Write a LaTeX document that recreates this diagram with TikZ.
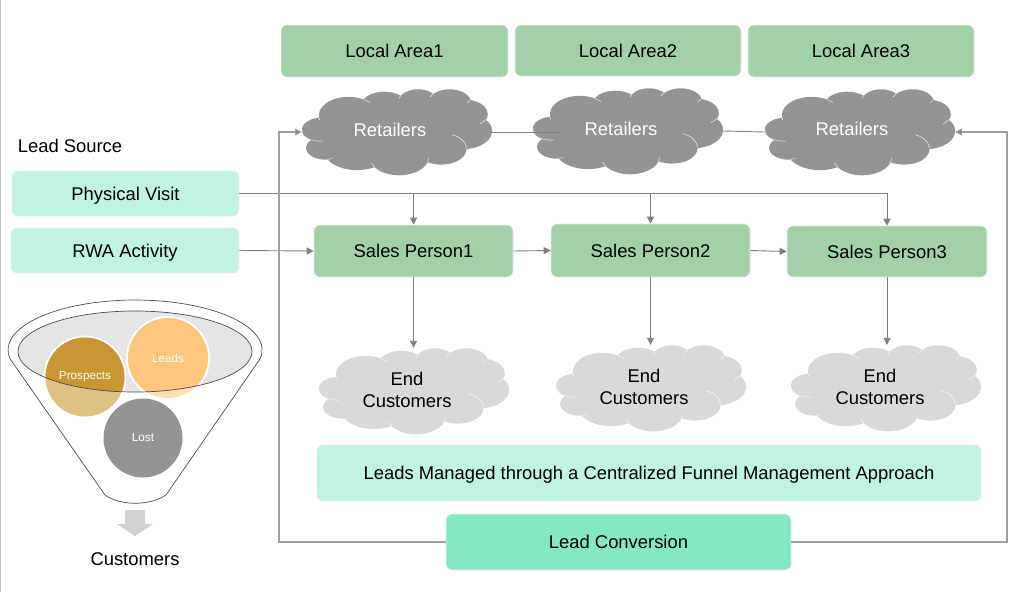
\documentclass[tikz,border=0pt]{standalone}
\usepackage{fontspec}
\usepackage{xcolor}
\setmainfont{Liberation Sans}
\usetikzlibrary{arrows.meta,calc}

\definecolor{areagreen}{HTML}{A2D0A9}
\definecolor{sourcemint}{HTML}{C0F3E0}
\definecolor{convmint}{HTML}{84E8C3}
\definecolor{wiregray}{HTML}{7F7F7F}
\definecolor{loopgray}{HTML}{A0A0A0}
\definecolor{puffdark}{HTML}{949494}
\definecolor{pufflight}{HTML}{D9D9D9}
\definecolor{prospdark}{HTML}{C89632}
\definecolor{prosplight}{HTML}{DFC184}
\definecolor{leaddark}{HTML}{FFC680}
\definecolor{leadlight}{HTML}{FFDDB5}

\tikzset{
  areabox/.style={draw=black!8, line width=0.6pt, fill=areagreen, rounded corners=6pt, inner sep=0pt, text height=13pt, text depth=0pt, font=\fontsize{18.4}{22}\selectfont},
  srcbox/.style={areabox, fill=sourcemint},
  puffbox/.style={inner sep=0pt, minimum width=190pt, minimum height=86pt},
  pufftext/.style={align=center, inner sep=0pt, font=\fontsize{18.4}{22}\selectfont},
  ball/.style={circle, inner sep=0pt, minimum size=79pt, text=white, font=\fontsize{11.7}{14}\selectfont},
  wire/.style={wiregray, line width=0.9pt},
  loopwire/.style={loopgray, line width=1.1pt},
  arrowed/.style={-{Triangle[length=7pt,width=7pt,fill=wiregray]}}
}

% one lobe of the cloud outline: radii, start angle, sweep
\newcommand{\cloudarc}[4]{%
  \pgfextra{%
    \pgfmathsetmacro{\cloudst}{atan2(#1*sin(#3),#2*cos(#3))}%
    \pgfmathsetmacro{\cloudend}{atan2(#1*sin(#3+#4),#2*cos(#3+#4))}%
    \pgfmathsetmacro{\cloudend}{\cloudend+360*(\cloudend<\cloudst)}%
  }
  arc[start angle=\cloudst, end angle=\cloudend, x radius=#1pt, y radius=#2pt]
}
% cloud with its top left corner at #1, filled with #2
\newcommand{\puff}[2]{%
  \begin{scope}[shift={(#1)}, xscale=0.44, yscale=-0.199]
    \fill[#2] (39pt,143.7pt)
      \cloudarc{67.53}{91.90}{-190.4875}{123.7805}
      \cloudarc{53.33}{72.67}{-144.1024}{89.9452}
      \cloudarc{43.65}{59.45}{-145.8079}{99.7230}
      \cloudarc{48.57}{65.95}{-130.9861}{117.2417}
      \cloudarc{53.33}{72.73}{-78.7089}{109.0269}
      \cloudarc{67.75}{92.20}{-46.2673}{130.2690}
      \cloudarc{57.85}{78.67}{0.6250}{114.0333}
      \cloudarc{67.52}{92.15}{22.4516}{115.1726}
      \cloudarc{77.20}{105.43}{66.2426}{75.7110}
      \cloudarc{43.60}{59.18}{-274.9421}{146.7356}
      \cloudarc{43.45}{59.45}{-246.8285}{152.5189}
      -- cycle;
    % seams between the lobes
    \draw[white, line width=0.4pt]
      (47pt,262pt) .. controls (38pt,263pt) and (28pt,260pt) .. (21pt,255pt)
      (69pt,349pt) -- (58pt,354pt)
      (165pt,391pt) -- (158pt,373pt)
      (288pt,348pt) -- (285pt,368pt)
      (341pt,230pt) .. controls (360pt,240pt) and (372pt,265pt) .. (374pt,297pt)
      (418pt,154pt) -- (405pt,175pt)
      (382pt,55pt) -- (375pt,71pt)
      (291pt,40pt) -- (298pt,24pt)
      (221pt,47pt) -- (224pt,34pt)
      (140pt,52pt) -- (155pt,68pt)
      (41pt,158pt) -- (38pt,145pt);
  \end{scope}
}

\begin{document}
\begin{tikzpicture}[x=1pt, y=-1pt]
  \useasboundingbox (0,0) rectangle (1028,592);
  \draw[gray!50, line width=1pt] (0.5,0) -- (0.5,592);

  % Clouds
  \puff{302,89}{puffdark}
  \puff{533,88}{puffdark}
  \puff{765,89}{puffdark}
  \puff{319,348}{pufflight}
  \puff{556,345}{pufflight}
  \puff{791,345}{pufflight}
  \node[puffbox] (ret1) at (397,132) {};
  \node[puffbox] (ret2) at (628,131) {};
  \node[puffbox] (ret3) at (860,132) {};
  \node[puffbox] (end1) at (414,391) {};
  \node[puffbox] (end2) at (651,388) {};
  \node[puffbox] (end3) at (886,388) {};
  \node[pufftext, text=white] (ret1txt) at (390,130) {Retailers};
  \node[pufftext, text=white] (ret2txt) at (621,129) {Retailers};
  \node[pufftext, text=white] (ret3txt) at (852,129) {Retailers};
  \node[pufftext] (end1txt) at (407,390) {End\\Customers};
  \node[pufftext] (end2txt) at (644,387) {End\\Customers};
  \node[pufftext] (end3txt) at (880,387) {End\\Customers};
  \coordinate (ret2in) at (561,132);

  % Boxes
  \node[areabox, minimum width=227pt, minimum height=52pt] (area1) at (394.5,51) {Local Area1};
  \node[areabox, minimum width=226pt, minimum height=51pt] (area2) at (628,50.5) {Local Area2};
  \node[areabox, minimum width=226pt, minimum height=52pt] (area3) at (861,51) {Local Area3};
  \node[areabox, minimum width=199pt, minimum height=52pt] (sales1) at (413.5,251) {Sales Person1};
  \node[areabox, minimum width=199pt, minimum height=53pt] (sales2) at (650.5,250.5) {Sales Person2};
  \node[areabox, minimum width=200pt, minimum height=51pt] (sales3) at (887,251.5) {Sales Person3};
  \node[srcbox, minimum width=227pt, minimum height=45pt] (visit) at (125.5,193.5) {Physical Visit};
  \node[srcbox, minimum width=228pt, minimum height=45pt] (rwa) at (125,250.5) {RWA Activity};
  \node[srcbox, minimum width=664pt, minimum height=56pt] (managed) at (649,473) {Leads Managed through a Centralized Funnel Management Approach};
  \node[srcbox, fill=convmint, minimum width=345pt, minimum height=56pt] (conv) at (618.5,542) {Lead Conversion};
  \node[pufftext] (source) at (70,146) {Lead Source};

  % Connectors
  \draw[wire] (ret1.east) -- (ret2in);
  \draw[wire] (ret2.east) -- (ret3.west);
  \draw[wire, arrowed] (visit.east) -| (sales3.north);
  \draw[wire, arrowed] (sales1.north |- visit.east) -- (sales1.north);
  \draw[wire, arrowed] (sales2.north |- visit.east) -- (sales2.north);
  \draw[wire, arrowed] (rwa.east) -- (sales1.west);
  \draw[wire, arrowed] (sales1.east) -- (sales2.west);
  \draw[wire, arrowed] (sales2.east) -- (sales3.west);
  \draw[wire, arrowed] (sales1.south) -- (sales1.south |- end1.north);
  \draw[wire, arrowed] (sales2.south) -- (sales2.south |- end2.north);
  \draw[wire, arrowed] (sales3.south) -- (sales3.south |- end3.north);
  \draw[loopwire, arrowed] (conv.west) -| (279,132) -- (ret1.west);
  \draw[loopwire, arrowed] (conv.east) -| (1007,132) -- (ret3.east);

  % Funnel
  \draw[black!70, line width=0.7pt, fill=white] (10,358.7)
    arc[start angle=190, end angle=-10, x radius=127pt, y radius=50pt]
    -- (166,495) .. controls (150,506) and (120,506) .. (105,495) -- cycle;
  \fill[black!10] (135,351.5) ellipse[x radius=117pt, y radius=40.5pt];
  \fill[prosplight] (85,377) circle (39.5pt);
  \fill[leadlight] (168,358) circle (40pt);
  \begin{scope}
    \clip (135,351.5) ellipse[x radius=117pt, y radius=40.5pt];
    \draw[white, line width=2pt] (85,377) circle (40.5pt);
    \draw[white, line width=2pt] (168,358) circle (41pt);
    \fill[prospdark] (85,377) circle (39.5pt);
    \fill[leaddark] (168,358) circle (40pt);
  \end{scope}
  \draw[black!70, line width=0.7pt] (135,351.5) ellipse[x radius=117pt, y radius=40.5pt];
  \node[ball] (prospects) at (85,377) {Prospects};
  \node[ball] (leads) at (168,358) {Leads};
  \node[ball, fill=puffdark] (lost) at (143,438) {Lost};

  % Arrow down to the customers label
  \fill[black!18] (125,510) -- (145,510) -- (145,524) -- (153,524) -- (135,536)
    -- (117,524) -- (125,524) -- cycle;
  \node[pufftext] (customers) at (135,559) {Customers};
\end{tikzpicture}
\end{document}
